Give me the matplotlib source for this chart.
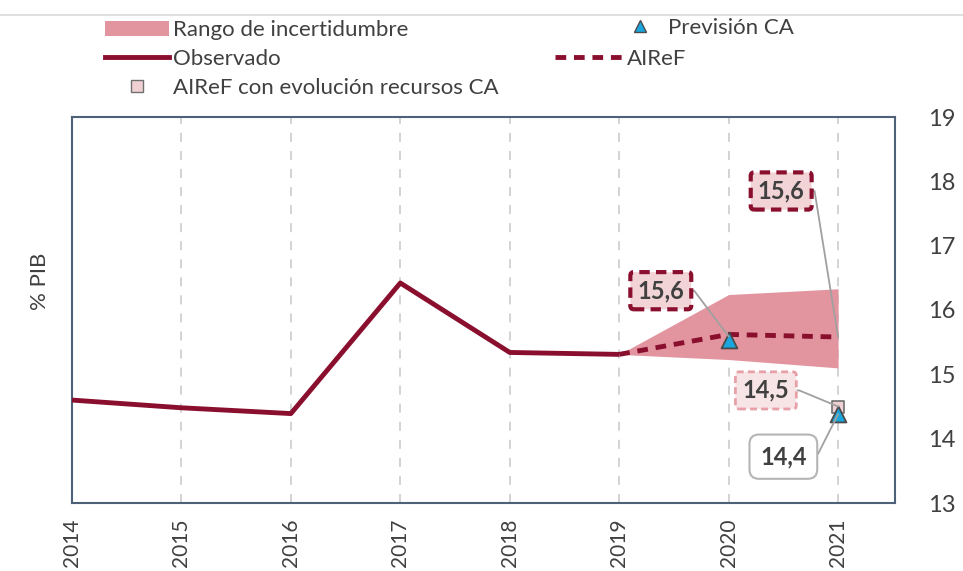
import matplotlib.pyplot as plt
from matplotlib.lines import Line2D
from matplotlib.patches import Patch

plt.rcParams['font.family'] = ['Lato', 'DejaVu Sans']

# data
years = [2014, 2015, 2016, 2017, 2018, 2019, 2020, 2021]
observado = [14.6, 14.48, 14.39, 16.42, 15.34, 15.31]
airef_years = [2019, 2020, 2021]
airef = [15.31, 15.62, 15.58]
band_low = [15.31, 15.23, 15.1]
band_high = [15.31, 16.24, 16.33]
prevision_years = [2020, 2021]
prevision = [15.54, 14.38]
recursos_year = [2021]
recursos = [14.5]

dark_red = '#8a0f2e'
band_col = '#e2959f'
txt_col = '#404040'

fig = plt.figure(figsize=(9.63, 5.71), dpi=100)
ax = fig.add_axes([72 / 963, 68 / 571, 823 / 963, 386 / 571])

# band + lines
ax.fill_between(airef_years, band_low, band_high, color=band_col, lw=0, zorder=2)
ax.plot(years[:len(observado)], observado, color=dark_red, lw=3.5, zorder=3,
        solid_capstyle='butt')
ax.plot(airef_years, airef, color=dark_red, lw=3.5, ls=(0, (2.2, 1.6)), zorder=3)
ax.scatter(recursos_year, recursos, marker='s', s=80, facecolor='#f0d0d3',
           edgecolor='#707070', lw=1.2, zorder=4)
ax.scatter(prevision_years, prevision, marker='^', s=130, facecolor='#1aa7e0',
           edgecolor='#4a4a4a', lw=1.3, zorder=5)

# axes styling
ax.set_xlim(2014, 2021.52)
ax.set_ylim(13, 19)
ax.set_xticks(years)
ax.set_xticklabels([str(y) for y in years], rotation=90, va='top', ha='center')
ax.set_yticks(range(13, 20))
ax.yaxis.tick_right()
ax.tick_params(axis='both', length=0, labelsize=17, colors=txt_col)
ax.tick_params(axis='x', labelsize=15, pad=11)
ax.tick_params(axis='y', pad=24)
for y in years[1:]:
    ax.axvline(y, color='#d0d0d0', lw=1.3, ls=(0, (5, 5)), zorder=1)
for s in ax.spines.values():
    s.set_color('#4f6079')
    s.set_linewidth(1.5)

fig.text(40 / 963, 290 / 571, '% PIB', rotation=90, ha='center', va='center',
         fontsize=16, color=txt_col)

# annotations
lbl_kw = dict(fontsize=17, fontweight='bold', color=txt_col, ha='center', va='center',
              zorder=6)
line_kw = dict(arrowstyle='-', color='#a0a0a0', lw=1.3, relpos=(1, 0.5),
               connectionstyle='arc,angleA=0,armA=10,armB=0,rad=0',
               shrinkA=0, shrinkB=0)
ax.annotate('15,6', xy=(2020, prevision[0] + 0.05), xytext=(2019.38, 16.3),
            bbox=dict(boxstyle='round,pad=0.3,rounding_size=0.15', fc='#f2d4d7',
                      ec=dark_red, lw=3, ls=(0, (2.5, 1.5))),
            arrowprops=line_kw, **lbl_kw)
ax.annotate('15,6', xy=(2021, airef[2]), xytext=(2020.48, 17.85),
            bbox=dict(boxstyle='round,pad=0.3,rounding_size=0.15', fc='#f2d4d7',
                      ec=dark_red, lw=3, ls=(0, (2.5, 1.5))),
            arrowprops=line_kw, **lbl_kw)
ax.annotate('14,5', xy=(2021, recursos[0]), xytext=(2020.34, 14.75),
            bbox=dict(boxstyle='round,pad=0.3,rounding_size=0.15', fc='#f7e4e6',
                      ec='#e8a0a8', lw=2, ls=(0, (2.5, 1.5))),
            arrowprops=line_kw, **lbl_kw)
ax.annotate('14,4', xy=(2021, prevision[1]), xytext=(2020.5, 13.72),
            bbox=dict(boxstyle='round,pad=0.45,rounding_size=0.4', fc='white',
                      ec='#b5b5b5', lw=1.5),
            arrowprops=line_kw, **lbl_kw)

# legend, split in pieces to place the entries like the original
leg_kw = dict(frameon=False, fontsize=16, borderpad=0, borderaxespad=0,
              loc='center left')
leg1 = fig.legend(
    [Patch(facecolor=band_col, edgecolor='none'),
     Line2D([], [], color=dark_red, lw=3.5),
     Line2D([], [], ls='none', marker='s', ms=8, mfc='#f0d0d3', mec='#707070')],
    ['Rango de incertidumbre', 'Observado', 'AIReF con evolución recursos CA'],
    bbox_to_anchor=(105 / 963, 1 - 59 / 571), handlelength=2.9,
    handletextpad=0.15, labelspacing=0.4, **leg_kw)
leg2 = fig.legend(
    [Line2D([], [], ls='none', marker='^', ms=9, mfc='#1aa7e0', mec='#4a4a4a')],
    ['Previsión CA'], bbox_to_anchor=(629 / 963, 1 - 28 / 571),
    handlelength=1.0, handletextpad=0.75, **leg_kw)
leg3 = fig.legend(
    [Line2D([], [], color=dark_red, lw=3.5, ls=(0, (2.2, 1.6)))],
    ['AIReF'], bbox_to_anchor=(555 / 963, 1 - 59 / 571),
    handlelength=3.1, handletextpad=0.15, **leg_kw)
for leg in (leg1, leg2, leg3):
    for t in leg.get_texts():
        t.set_color(txt_col)

fig.add_artist(Line2D([0, 1], [1 - 15 / 571, 1 - 15 / 571], color='#d9d9d9', lw=1.2,
                      transform=fig.transFigure))

fig.savefig('out.png', dpi=100)
